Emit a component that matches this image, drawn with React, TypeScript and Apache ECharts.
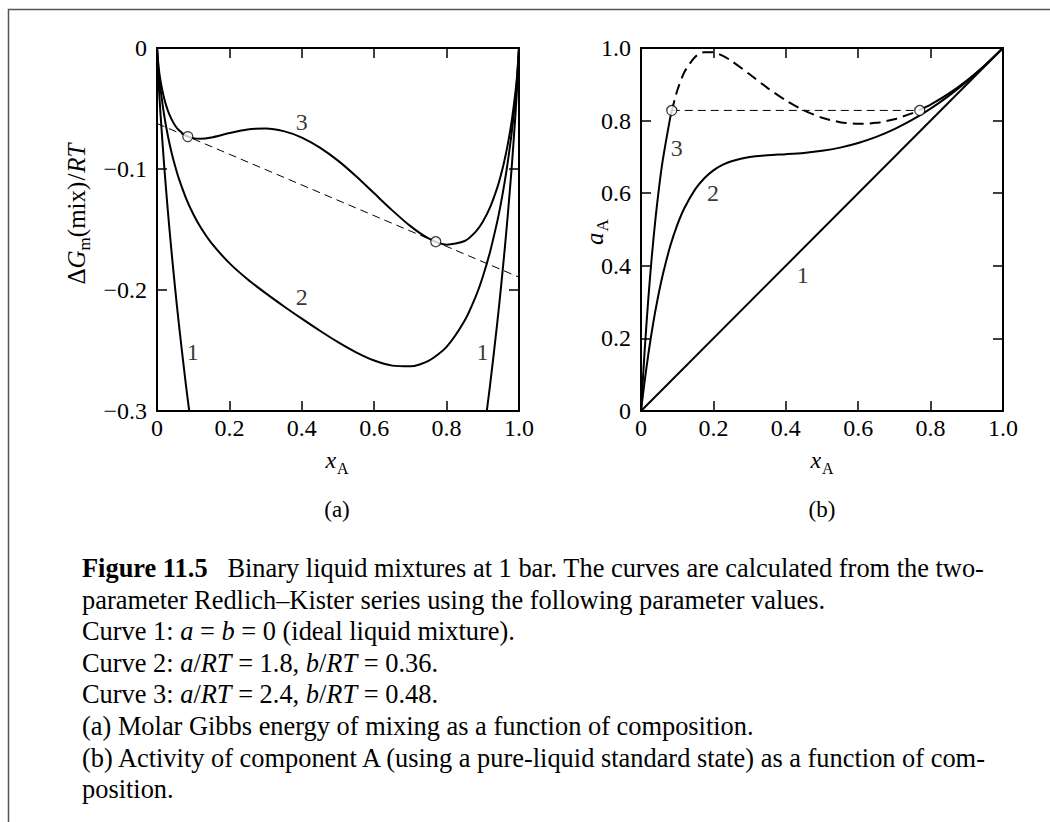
import React, { useEffect, useRef } from 'react';
import * as echarts from 'echarts';

// ---------- data: panel (a) molar Gibbs energy of mixing / RT ----------
const xA = [0, 0.005, 0.01, 0.02, 0.03, 0.04, 0.05, 0.06, 0.08, 0.1, 0.12, 0.15, 0.2, 0.25, 0.3, 0.35, 0.4, 0.45, 0.5,
  0.55, 0.6, 0.65, 0.7, 0.75, 0.8, 0.85, 0.88, 0.9, 0.92, 0.94, 0.95, 0.96, 0.97, 0.98, 0.99, 0.995, 1];
const dGCurve1 = [0, -0.0315, -0.056, -0.098, -0.1347, -0.1679, -0.1985, -0.227, -0.2788, -0.3251, -0.3669, -0.4227,
  -0.5004, -0.5623, -0.6109, -0.6474, -0.673, -0.6881, -0.6931, -0.6881, -0.673, -0.6474, -0.6109, -0.5623, -0.5004,
  -0.4227, -0.3669, -0.3251, -0.2788, -0.227, -0.1985, -0.1679, -0.1347, -0.098, -0.056, -0.0315, 0];
const dGCurve2 = [0, -0.0208, -0.0347, -0.056, -0.0725, -0.0861, -0.0976, -0.1076, -0.124, -0.1372, -0.148, -0.1611,
  -0.1778, -0.1911, -0.2026, -0.2134, -0.2237, -0.2337, -0.2431, -0.2515, -0.2583, -0.2625, -0.2631, -0.2586, -0.247,
  -0.2253, -0.2057, -0.189, -0.1685, -0.1433, -0.1284, -0.1115, -0.0922, -0.0695, -0.0417, -0.0243, 0];
const dGCurve3 = [0, -0.0172, -0.0276, -0.042, -0.0518, -0.0588, -0.064, -0.0678, -0.0725, -0.0745, -0.075, -0.0739,
  -0.0703, -0.0673, -0.0665, -0.0687, -0.074, -0.0823, -0.0931, -0.106, -0.1201, -0.1342, -0.1472, -0.1573, -0.1625,
  -0.1595, -0.152, -0.1436, -0.1318, -0.1154, -0.105, -0.0927, -0.078, -0.06, -0.0369, -0.0219, 0];
const tangentX = [0, 1];
const tangentY = [-0.0624, -0.1894];
const binodalX = [0.085, 0.77];
const binodalGY = [-0.0732, -0.1601];

// ---------- data: panel (b) activity of A ----------
const xAct = [0, 0.01, 0.02, 0.03, 0.04, 0.05, 0.06, 0.08, 0.1, 0.12, 0.15, 0.175, 0.2, 0.225, 0.25, 0.3, 0.35, 0.4,
  0.45, 0.5, 0.55, 0.6, 0.65, 0.7, 0.75, 0.8, 0.85, 0.9, 0.95, 1];
const actCurve2 = [0, 0.0819, 0.1549, 0.2198, 0.2777, 0.3291, 0.3749, 0.4516, 0.5119, 0.5591, 0.6111, 0.6413, 0.6628,
  0.6778, 0.6881, 0.6996, 0.7046, 0.7075, 0.711, 0.7167, 0.7256, 0.7383, 0.7551, 0.7765, 0.8024, 0.8329, 0.8681,
  0.9078, 0.9519, 1];
const actCurve1X = [0, 1];
const actCurve1Y = [0, 1];
const x3Low = [0, 0.01, 0.02, 0.03, 0.04, 0.05, 0.06, 0.08, 0.085];
const act3Low = [0, 0.1651, 0.3064, 0.427, 0.5297, 0.6168, 0.6904, 0.8041, 0.8265];
const x3Mid = [0.085, 0.1, 0.12, 0.15, 0.175, 0.2, 0.225, 0.25, 0.3, 0.35, 0.4, 0.45, 0.5, 0.55, 0.6, 0.65, 0.7, 0.75, 0.77];
const act3Mid = [0.8265, 0.8822, 0.9339, 0.9759, 0.9886, 0.9881, 0.9789, 0.9644, 0.9277, 0.8896, 0.8556, 0.8281,
  0.808, 0.7957, 0.7911, 0.7939, 0.8038, 0.8206, 0.8293];
const x3High = [0.77, 0.8, 0.85, 0.9, 0.95, 1];
const act3High = [0.8293, 0.8442, 0.8742, 0.9104, 0.9525, 1];
const tieX = [0.085, 0.77];
const tieY = [0.828, 0.828];

// ---------- curve number labels ----------
const labelNamesA = ['3', '2', '1', '1'];
const labelXA = [0.4, 0.4, 0.099, 0.899];
const labelYA = [-0.061, -0.2055, -0.251, -0.251];
const labelNamesB = ['3', '2', '1'];
const labelXB = [0.099, 0.199, 0.447];
const labelYB = [0.724, 0.6, 0.375];

// ---------- tick labels ----------
const xTickLabels = ['0', '0.2', '0.4', '0.6', '0.8', '1.0'];
const yTickLabelsA = ['0', '\u22120.1', '\u22120.2', '\u22120.3'];
const yTickLabelsB = ['0', '0.2', '0.4', '0.6', '0.8', '1.0'];

// ---------- caption ----------
type Seg = [string, 'n' | 'i' | 'b'];
const captionLines: Seg[][] = [
  [['Figure 11.5', 'b'], ['   Binary liquid mixtures at 1 bar. The curves are calculated from the two-', 'n']],
  [['parameter Redlich\u2013Kister series using the following parameter values.', 'n']],
  [['Curve 1: ', 'n'], ['a', 'i'], [' = ', 'n'], ['b', 'i'], [' = 0 (ideal liquid mixture).', 'n']],
  [['Curve 2: ', 'n'], ['a', 'i'], ['/', 'n'], ['RT', 'i'], [' = 1.8, ', 'n'], ['b', 'i'], ['/', 'n'], ['RT', 'i'], [' = 0.36.', 'n']],
  [['Curve 3: ', 'n'], ['a', 'i'], ['/', 'n'], ['RT', 'i'], [' = 2.4, ', 'n'], ['b', 'i'], ['/', 'n'], ['RT', 'i'], [' = 0.48.', 'n']],
  [['(a) Molar Gibbs energy of mixing as a function of composition.', 'n']],
  [['(b) Activity of component A (using a pure-liquid standard state) as a function of com-', 'n']],
  [['position.', 'n']],
];

const FONT = 'Liberation Serif, Times New Roman, serif';

const zip = (xs: number[], ys: number[]) => xs.map((x, i) => [x, ys[i]]);

export default function App() {
  const ref = useRef<HTMLDivElement>(null);
  useEffect(() => {
    if (!ref.current) return;
    const chart = echarts.init(ref.current, undefined, { renderer: 'svg' });
    const ctx = document.createElement('canvas').getContext('2d')!;
    const tw = (t: string, f: string) => { ctx.font = f; return ctx.measureText(t).width; };
    const NS = 25; // axis-name size
    const SS = 17; // subscript size
    const fN = `${NS}px ${FONT}`;
    const fI = `italic ${NS}px ${FONT}`;
    const fS = `${SS}px ${FONT}`;
    const C = 0.3375; // central-baseline offset factor
    const subDrop = 6 + C * (NS - SS);

    const txt = (t: string, x: number, y: number, font: string, extra: any = {}) => ({
      type: 'text', x, y, silent: true,
      style: { text: t, font, fill: '#000', align: 'left', verticalAlign: 'middle', textAlign: 'left', textVerticalAlign: 'middle', ...extra },
    });

    // x_A axis names
    const fIx = `italic 24px ${FONT}`;
    const fSx = `16px ${FONT}`;
    const xName = (cx: number) => {
      const w1 = tw('x', fIx), w2 = tw('A', fSx);
      const s = cx - (w1 + 1 + w2) / 2;
      const base = 468;
      return [txt('x', s, base - C * 24, fIx), txt('A', s + w1 + 1, base + 6 - C * 16, fSx)];
    };
    // y name of (a), rotated
    const yPieces: [string, string, boolean][] = [['\u0394', fN, false], ['G', fI, false], ['m', fS, true], ['(mix)', fN, false], ['/', fN, false], ['RT', fI, false]];
    const widths = yPieces.map(p => tw(p[0], p[1]));
    const tot = widths.reduce((a, b) => a + b, 0) + 2;
    let pos = -tot / 2;
    const yChildren: any[] = [];
    yPieces.forEach((p, i) => {
      if (p[0] === '/') pos += 1;
      yChildren.push(txt(p[0], pos, p[2] ? subDrop : 0, p[1]));
      pos += widths[i];
      if (p[0] === '/') pos += 1;
    });
    // y name of (b): a_A
    const wa = tw('a', fI);
    const wA = tw('A', fS);
    const yNameB = {
      type: 'group', x: 594, y: 232, rotation: Math.PI / 2,
      children: [txt('a', -(wa + 1 + wA) / 2, 0, fI), txt('A', -(wa + 1 + wA) / 2 + wa + 1, subDrop, fS)],
    };

    // caption
    const CS = 26.4;
    const fC = `${CS}px ${FONT}`;
    const capEls: any[] = [];
    captionLines.forEach((line, li) => {
      const base = 577 + li * 31.6;
      const text = line.map(([t, k]) => (k === 'n' ? t : `{${k}|${t}}`)).join('');
      capEls.push({
        type: 'text', x: 82, y: base - C * CS, silent: true,
        style: {
          text, font: fC, fill: '#000', align: 'left', verticalAlign: 'middle', textAlign: 'left', textVerticalAlign: 'middle',
          rich: {
            b: { fontWeight: 'bold', fontSize: CS, fontFamily: FONT, fill: '#000' },
            i: { fontStyle: 'italic', fontSize: CS, fontFamily: FONT, fill: '#000' },
          },
        },
      });
    });

    const TS = 24; // tick label size
    const axisLineStyle = { color: '#000', width: 2 };
    const tick = { inside: true, length: 10, lineStyle: { color: '#000', width: 1.5 } };
    const xAxis = (grid: number, position: string, show: boolean) => ({
      type: 'value', gridIndex: grid, position, min: 0, max: 1, interval: 0.2,
      axisLine: { onZero: false, lineStyle: axisLineStyle }, axisTick: tick, splitLine: { show: false },
      axisLabel: {
        show, margin: 5, fontFamily: FONT, fontSize: TS, color: '#000', showMinLabel: true, showMaxLabel: true,
        formatter: (v: number) => xTickLabels[Math.round(v / 0.2)],
      },
    });
    const yAxis = (grid: number, position: string, show: boolean, min: number, max: number, labels: string[], neg: boolean) => ({
      type: 'value', gridIndex: grid, position, min, max, interval: 0.1 * (neg ? 1 : 2),
      axisLine: { onZero: false, lineStyle: axisLineStyle }, axisTick: tick, splitLine: { show: false },
      axisLabel: {
        show, margin: 10, fontFamily: FONT, fontSize: TS, color: '#000', showMinLabel: true, showMaxLabel: true,
        formatter: (v: number) => labels[Math.round(Math.abs(v) / (neg ? 0.1 : 0.2))],
      },
    });

    const solid = (w = 2) => ({ color: '#000', width: w, type: 'solid' as const });
    const line = (data: number[][], xi: number, yi: number, lineStyle: any, z = 3, smooth: number | boolean = 0.25) => ({
      type: 'line', data, xAxisIndex: xi, yAxisIndex: yi, showSymbol: false, symbol: 'none', smooth,
      lineStyle, z, clip: true, silent: true,
    });
    const circles = (data: number[][], xi: number, yi: number) => ({
      type: 'scatter', data, xAxisIndex: xi, yAxisIndex: yi, symbol: 'circle', symbolSize: 10, z: 10, silent: true,
      itemStyle: { color: '#fff', borderColor: '#000', borderWidth: 1.2 },
    });
    const curveLabels = (names: string[], xs: number[], ys: number[], xi: number, yi: number) => ({
      type: 'scatter', xAxisIndex: xi, yAxisIndex: yi, symbolSize: 0, silent: true, z: 11,
      itemStyle: { color: '#000' },
      data: names.map((n, i) => ({ name: n, value: [xs[i], ys[i]] })),
      label: {
        show: true, position: 'inside', formatter: '{b}', fontFamily: FONT, fontSize: TS, color: '#000',
        textBorderWidth: 0, textShadowBlur: 0,
      },
    });

    const option: any = {
      animation: false,
      backgroundColor: '#fff',
      grid: [
        { left: 157, top: 48, width: 362, height: 363 },
        { left: 641, top: 48, width: 362, height: 363 },
      ],
      xAxis: [xAxis(0, 'bottom', true), xAxis(0, 'top', false), xAxis(1, 'bottom', true), xAxis(1, 'top', false)],
      yAxis: [
        yAxis(0, 'left', true, -0.3, 0, yTickLabelsA, true),
        yAxis(0, 'right', false, -0.3, 0, yTickLabelsA, true),
        yAxis(1, 'left', true, 0, 1, yTickLabelsB, false),
        yAxis(1, 'right', false, 0, 1, yTickLabelsB, false),
      ],
      series: [
        line(zip(xA, dGCurve1), 0, 0, solid()),
        line(zip(xA, dGCurve2), 0, 0, solid()),
        line(zip(xA, dGCurve3), 0, 0, solid()),
        line(zip(tangentX, tangentY), 0, 0, { color: '#000', width: 1, type: [8, 5] }, 2, false),
        circles(zip(binodalX, binodalGY), 0, 0),
        curveLabels(labelNamesA, labelXA, labelYA, 0, 0),
        line(zip(actCurve1X, actCurve1Y), 2, 2, solid(), 3, false),
        line(zip(xAct, actCurve2), 2, 2, solid()),
        line(zip(x3Low, act3Low), 2, 2, solid()),
        line(zip(x3Mid, act3Mid), 2, 2, { color: '#000', width: 2, type: [11, 6] }),
        line(zip(x3High, act3High), 2, 2, solid()),
        line(zip(tieX, tieY), 2, 2, { color: '#000', width: 1, type: [8, 5] }, 2, false),
        circles(zip(tieX, tieY), 2, 2),
        curveLabels(labelNamesB, labelXB, labelYB, 2, 2),
      ],
      graphic: [
        { type: 'rect', silent: true, shape: { x: 8.5, y: 9.5, width: 1200, height: 1000 }, style: { fill: 'none', stroke: '#555', lineWidth: 1.5 } },
        ...xName(337), ...xName(822),
        { type: 'group', x: 76, y: 214, rotation: Math.PI / 2, children: yChildren },
        yNameB,
        txt('(a)', 337 - tw('(a)', `23px ${FONT}`) / 2, 509, `23px ${FONT}`),
        txt('(b)', 822 - tw('(b)', `23px ${FONT}`) / 2, 509, `23px ${FONT}`),
        ...capEls,
      ],
    };
    chart.setOption(option);
    return () => chart.dispose();
  }, []);
  return <div ref={ref} style={{ position: 'fixed', left: 0, top: 0, width: 1050, height: 822, background: '#fff' }} />;
}
